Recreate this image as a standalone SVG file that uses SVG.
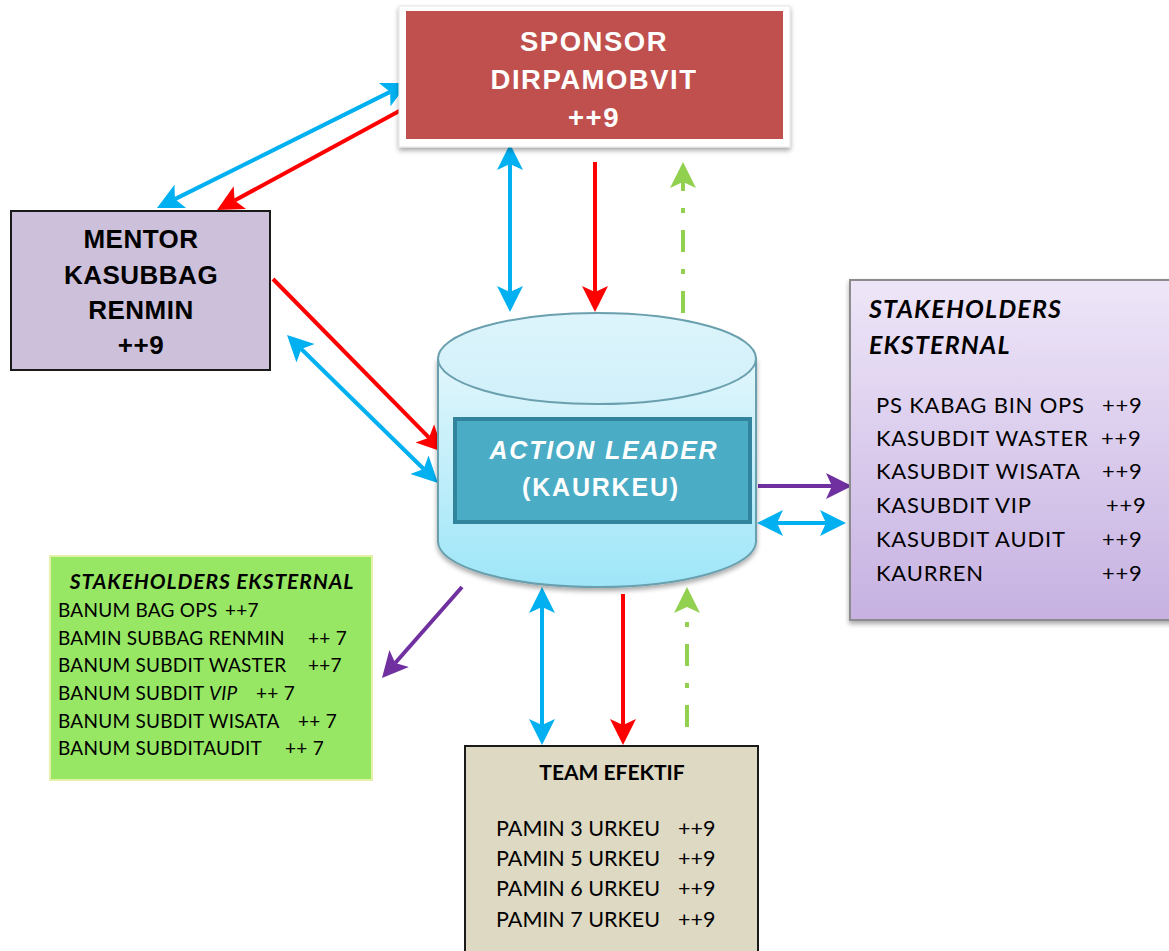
<svg xmlns="http://www.w3.org/2000/svg" width="1169" height="951" viewBox="0 0 1169 951">
<defs>
<style>
.ar{font-family:"Liberation Sans",Arial,sans-serif;font-weight:bold}
.cb{font-family:Lato,"Open Sans",sans-serif}
.ln{fill:none;stroke-width:4}
.blue{stroke:#00B0F0}.red{stroke:#FF0000}.pur{stroke:#7030A0}.grn{stroke:#92D050;stroke-dasharray:22 17 5 17}
</style>
<marker id="mb" markerUnits="userSpaceOnUse" markerWidth="30" markerHeight="30" viewBox="0 -15 30 30" refX="6" refY="0" orient="auto-start-reverse"><path d="M0,-13 L26,0 L0,13 L6,0 Z" fill="#00B0F0"/></marker>
<marker id="mr" markerUnits="userSpaceOnUse" markerWidth="30" markerHeight="30" viewBox="0 -15 30 30" refX="6" refY="0" orient="auto"><path d="M0,-13 L26,0 L0,13 L6,0 Z" fill="#FF0000"/></marker>
<marker id="mp" markerUnits="userSpaceOnUse" markerWidth="30" markerHeight="30" viewBox="0 -15 30 30" refX="6" refY="0" orient="auto"><path d="M0,-13 L26,0 L0,13 L6,0 Z" fill="#7030A0"/></marker>
<marker id="mg" markerUnits="userSpaceOnUse" markerWidth="30" markerHeight="30" viewBox="0 -15 30 30" refX="6" refY="0" orient="auto"><path d="M0,-13 L26,0 L0,13 L6,0 Z" fill="#92D050"/></marker>
<linearGradient id="gcyl" x1="0" y1="0" x2="0" y2="1"><stop offset="0" stop-color="#E2F6FC"/><stop offset="1" stop-color="#9EE6F8"/></linearGradient>
<linearGradient id="gtop" x1="0" y1="0" x2="0" y2="1"><stop offset="0" stop-color="#DDF4FB"/><stop offset="1" stop-color="#D0F0FA"/></linearGradient>
<linearGradient id="gpur" x1="0" y1="0" x2="0" y2="1"><stop offset="0" stop-color="#EEE6F8"/><stop offset="1" stop-color="#C6B1E1"/></linearGradient>
<filter id="sh" x="-10%" y="-10%" width="120%" height="130%"><feGaussianBlur in="SourceAlpha" stdDeviation="2.5"/><feOffset dx="0" dy="3"/><feComponentTransfer><feFuncA type="linear" slope="0.35"/></feComponentTransfer><feMerge><feMergeNode/><feMergeNode in="SourceGraphic"/></feMerge></filter>
</defs>
<rect width="1169" height="951" fill="#FFFFFF"/>

<g id="connectors">
<line class="ln blue" x1="390.1" y1="91.9" x2="174.9" y2="199.1" marker-start="url(#mb)" marker-end="url(#mb)"/>
<line class="ln red" x1="403" y1="109" x2="234.6" y2="200.5" marker-end="url(#mr)"/>
<line class="ln blue" x1="510" y1="164" x2="510" y2="292" marker-start="url(#mb)" marker-end="url(#mb)"/>
<line class="ln red" x1="595" y1="162" x2="595" y2="292" marker-end="url(#mr)"/>
<line class="ln grn" x1="683" y1="313" x2="683" y2="182" marker-end="url(#mg)"/>
<line class="ln red" x1="273" y1="279" x2="429" y2="437.7" marker-end="url(#mr)"/>
<line class="ln blue" x1="301.3" y1="349" x2="423.7" y2="469" marker-start="url(#mb)" marker-end="url(#mb)"/>
<line class="ln pur" x1="758" y1="486" x2="832" y2="486" marker-end="url(#mp)"/>
<line class="ln blue" x1="777" y1="523" x2="826" y2="523" marker-start="url(#mb)" marker-end="url(#mb)"/>
<line class="ln pur" x1="462" y1="587" x2="395.2" y2="663" marker-end="url(#mp)"/>
<line class="ln blue" x1="542" y1="607" x2="542" y2="725" marker-start="url(#mb)" marker-end="url(#mb)"/>
<line class="ln red" x1="623" y1="594" x2="623" y2="725" marker-end="url(#mr)"/>
<line class="ln grn" x1="687" y1="727" x2="687" y2="607" marker-end="url(#mg)"/>
</g>

<g id="sponsor">
<rect x="399" y="6" width="391" height="141" fill="#FFFFFF" stroke="#E6E6E6" stroke-width="1" filter="url(#sh)"/>
<rect x="406" y="11" width="377" height="128" fill="#C0504D"/>
<text class="ar" x="594" y="51" font-size="27.5" fill="#FFFFFF" text-anchor="middle" letter-spacing="1.5">SPONSOR</text>
<text class="ar" x="594" y="89" font-size="27.5" fill="#FFFFFF" text-anchor="middle" letter-spacing="1.5">DIRPAMOBVIT</text>
<text class="ar" x="594" y="127" font-size="27.5" fill="#FFFFFF" text-anchor="middle" letter-spacing="1.5">++9</text>
</g>

<g id="mentor">
<rect x="11" y="211" width="259" height="159" fill="#CCC0DA" stroke="#1A1A1A" stroke-width="2"/>
<text class="ar" x="141" y="248" font-size="26" fill="#000000" text-anchor="middle" letter-spacing="0.5">MENTOR</text>
<text class="ar" x="141" y="284" font-size="26" fill="#000000" text-anchor="middle" letter-spacing="0.5">KASUBBAG</text>
<text class="ar" x="141" y="319" font-size="26" fill="#000000" text-anchor="middle" letter-spacing="0.5">RENMIN</text>
<text class="ar" x="141" y="354" font-size="26" fill="#000000" text-anchor="middle" letter-spacing="0.5">++9</text>
</g>

<g id="action-leader">
<path d="M438,358.5 L438,541.5 A159,45.5 0 0 0 756,541.5 L756,358.5 Z" fill="url(#gcyl)" stroke="#6A9FAE" stroke-width="2" filter="url(#sh)"/>
<ellipse cx="597" cy="358.5" rx="159" ry="45.5" fill="url(#gtop)" stroke="#6A9FAE" stroke-width="2"/>
<rect x="455" y="419" width="295" height="103" fill="#4BACC6" stroke="#31849B" stroke-width="4"/>
<text class="ar" x="604" y="459" font-size="25" fill="#FFFFFF" text-anchor="middle" font-style="italic" letter-spacing="1.8">ACTION LEADER</text>
<text class="ar" x="601" y="496" font-size="25" fill="#FFFFFF" text-anchor="middle" letter-spacing="1.8">(KAURKEU)</text>
</g>

<g id="stakeholders-right">
<rect x="850" y="280" width="325" height="340" fill="url(#gpur)" stroke="#8C8C8C" stroke-width="2" filter="url(#sh)"/>
<text class="cb" x="869" y="318" font-size="25" font-weight="bold" font-style="italic" fill="#000000" letter-spacing="1.2">STAKEHOLDERS</text>
<text class="cb" x="869" y="354" font-size="25" font-weight="bold" font-style="italic" fill="#000000" letter-spacing="1.2">EKSTERNAL</text>
<g class="cb" font-size="22" fill="#000000" letter-spacing="0.8">
<text x="876" y="413">PS KABAG BIN OPS</text><text x="1102" y="413">++9</text>
<text x="876" y="446">KASUBDIT WASTER</text><text x="1101" y="446">++9</text>
<text x="876" y="479">KASUBDIT WISATA</text><text x="1102" y="479">++9</text>
<text x="876" y="513">KASUBDIT VIP</text><text x="1106" y="513">++9</text>
<text x="876" y="547">KASUBDIT AUDIT</text><text x="1102" y="547">++9</text>
<text x="876" y="581">KAURREN</text><text x="1102" y="581">++9</text>
</g>
</g>

<g id="stakeholders-left">
<rect x="50" y="556" width="322" height="224" fill="#97E764" stroke="#E4F1A8" stroke-width="2"/>
<text class="cb" x="212" y="589" font-size="21" font-weight="bold" font-style="italic" fill="#000000" text-anchor="middle" letter-spacing="0.9">STAKEHOLDERS EKSTERNAL</text>
<g class="cb" font-size="19" fill="#000000" letter-spacing="0.25">
<text x="58" y="617">BANUM BAG OPS</text><text x="225" y="617">++7</text>
<text x="58" y="645">BAMIN SUBBAG RENMIN</text><text x="308" y="645">++ 7</text>
<text x="58" y="672">BANUM SUBDIT WASTER</text><text x="308" y="672">++7</text>
<text x="58" y="700">BANUM SUBDIT <tspan font-style="italic">VIP</tspan></text><text x="256" y="700">++ 7</text>
<text x="58" y="728">BANUM SUBDIT WISATA</text><text x="298" y="728">++ 7</text>
<text x="58" y="755">BANUM SUBDITAUDIT</text><text x="285" y="755">++ 7</text>
</g>
</g>

<g id="team-efektif">
<rect x="465" y="746" width="293" height="215" fill="#DDD9C3" stroke="#1A1A1A" stroke-width="2"/>
<text class="cb" x="612" y="780" font-size="21" font-weight="bold" fill="#000000" text-anchor="middle">TEAM EFEKTIF</text>
<g class="cb" font-size="21.5" fill="#000000">
<text x="496" y="836">PAMIN 3 URKEU</text><text x="678" y="836">++9</text>
<text x="496" y="866">PAMIN 5 URKEU</text><text x="678" y="866">++9</text>
<text x="496" y="896">PAMIN 6 URKEU</text><text x="678" y="896">++9</text>
<text x="496" y="927">PAMIN 7 URKEU</text><text x="678" y="927">++9</text>
</g>
</g>
</svg>
